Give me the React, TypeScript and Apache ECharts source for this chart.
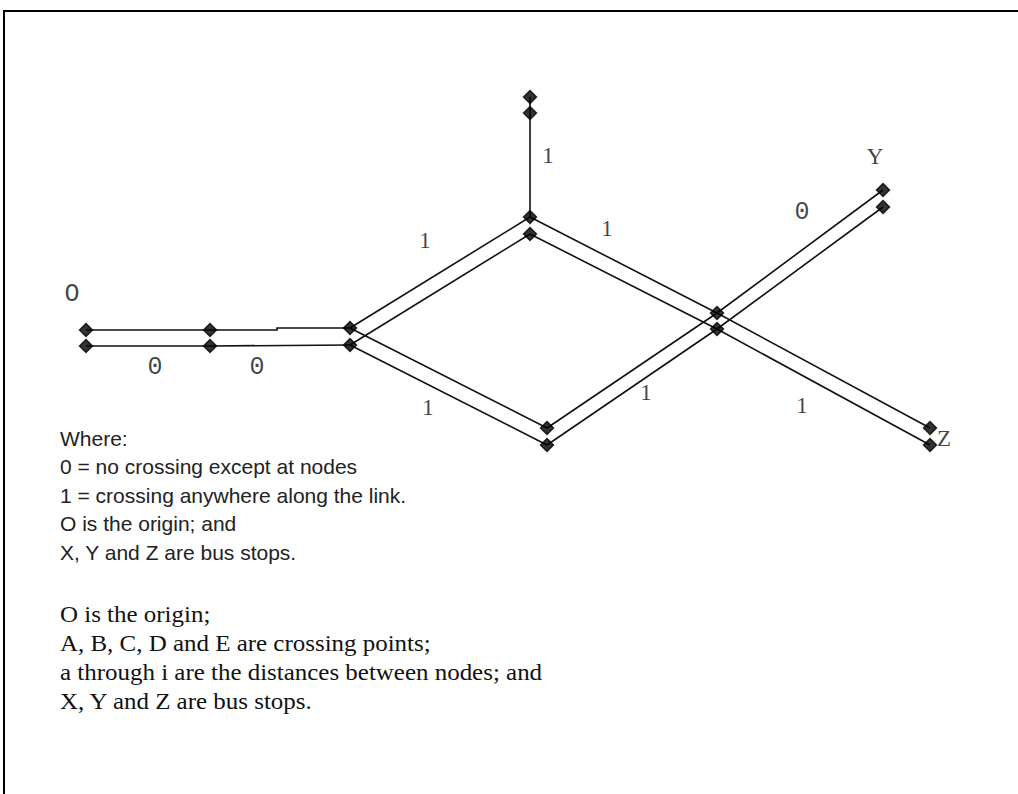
import React, { useEffect, useRef } from "react";
import * as echarts from "echarts";

// Node positions in the diagram's coordinate space (x right, y down)
const nodeNames = ["O1", "O2", "N1", "N2", "B1", "B2", "T1", "T2", "A1", "A2", "C1", "C2", "D1", "D2", "Y1", "Y2", "Z1", "Z2"];
const nodeX = [86, 86, 210, 210, 350, 350, 530, 530, 530, 530, 717, 717, 547, 547, 883, 883, 930, 930];
const nodeY = [330, 346, 330, 346, 328, 345, 97, 113, 217, 234, 313, 329, 428, 445, 190, 207, 428, 445];

// Bends that are not nodes
const bendNames = ["S1", "S2"];
const bendX = [277, 277];
const bendY = [330, 328];

// Links as chains of points
const links = [
  ["O1", "N1", "S1", "S2", "B1"],
  ["O2", "N2", "B2"],
  ["T1", "A1"],
  ["B1", "A1"],
  ["B2", "A2"],
  ["B1", "D1"],
  ["B2", "D2"],
  ["A1", "C1", "Z1"],
  ["A2", "C2", "Z2"],
  ["D1", "C1", "Y1"],
  ["D2", "C2", "Y2"],
];

// Link weights and node letters
const monoLabelText = ["O", "0", "0", "0"];
const monoLabelX = [72, 155, 257, 802];
const monoLabelY = [294, 367, 367, 212];
const serifLabelText = ["1", "1", "1", "1", "1", "1", "Y", "Z"];
const serifLabelX = [425, 428, 548, 607, 646, 802, 875, 944];
const serifLabelY = [240, 407, 155, 228, 392, 405, 156, 438];

const notesSans = [
  "Where:",
  "0 = no crossing except at nodes",
  "1 = crossing anywhere along the link.",
  "O is the origin; and",
  "X, Y and Z are bus stops.",
];
const notesSerif = [
  "O is the origin;",
  "A, B, C, D and E are crossing points;",
  "a through i are the distances between nodes; and",
  "X, Y and Z are bus stops.",
];

export default function App() {
  const ref = useRef<HTMLDivElement>(null);
  useEffect(() => {
    if (!ref.current) return;
    const chart = echarts.init(ref.current, undefined, { renderer: "svg" });
    const pos: Record<string, number[]> = {};
    nodeNames.forEach((n, i) => (pos[n] = [nodeX[i], nodeY[i]]));
    bendNames.forEach((n, i) => (pos[n] = [bendX[i], bendY[i]]));

    const sansTop = 438;
    const sansStep = 28.5;
    const serifTop = 614;
    const serifStep = 29;

    chart.setOption({
      animation: false,
      backgroundColor: "#ffffff",
      grid: { left: 0, right: 0, top: 0, bottom: 0 },
      xAxis: { type: "value", min: 0, max: 1018, show: false },
      yAxis: { type: "value", min: 0, max: 794, inverse: true, show: false },
      series: [
        {
          type: "lines",
          coordinateSystem: "cartesian2d",
          polyline: true,
          silent: true,
          lineStyle: { color: "#111", width: 1.6, opacity: 1 },
          data: links.map((l) => ({ coords: l.map((id) => pos[id]) })),
        },
        {
          type: "scatter",
          symbol: "diamond",
          symbolSize: 13,
          itemStyle: { color: "#000", borderColor: "#000", borderWidth: 1.5 },
          data: nodeNames.map((n, i) => [nodeX[i], nodeY[i]]),
        },
        {
          type: "scatter",
          symbolSize: 0,
          label: {
            show: true,
            position: "inside",
            formatter: (p: any) => monoLabelText[p.dataIndex],
            fontFamily: "Liberation Mono",
            fontSize: 25,
            color: "#111",
          },
          data: monoLabelX.map((x, i) => [x, monoLabelY[i]]),
        },
        {
          type: "scatter",
          symbolSize: 0,
          label: {
            show: true,
            position: "inside",
            formatter: (p: any) => serifLabelText[p.dataIndex],
            fontFamily: "Liberation Serif",
            fontSize: 23,
            color: "#111",
          },
          data: serifLabelX.map((x, i) => [x, serifLabelY[i]]),
        },
      ],
      graphic: [
        { type: "line", shape: { x1: 3, y1: 11, x2: 1018, y2: 11 }, style: { stroke: "#000", lineWidth: 2 } },
        { type: "line", shape: { x1: 4, y1: 10, x2: 4, y2: 794 }, style: { stroke: "#000", lineWidth: 2 } },
        ...notesSans.map((t, i) => ({
          type: "text",
          x: 60,
          y: sansTop + i * sansStep,
          style: {
            text: t,
            font: "21px 'Liberation Sans'",
            fill: "#222",
            verticalAlign: "middle",
            textVerticalAlign: "middle",
          },
        })),
        ...notesSerif.map((t, i) => ({
          type: "text",
          x: 60,
          y: serifTop + i * serifStep,
          scaleX: 1.04,
          style: {
            text: t,
            font: "24px 'Liberation Serif'",
            fill: "#111",
            verticalAlign: "middle",
            textVerticalAlign: "middle",
          },
        })),
      ],
    });
    return () => chart.dispose();
  }, []);
  return (
    <div
      ref={ref}
      style={{ position: "absolute", left: 0, top: 0, width: 1018, height: 794, background: "#fff" }}
    />
  );
}
